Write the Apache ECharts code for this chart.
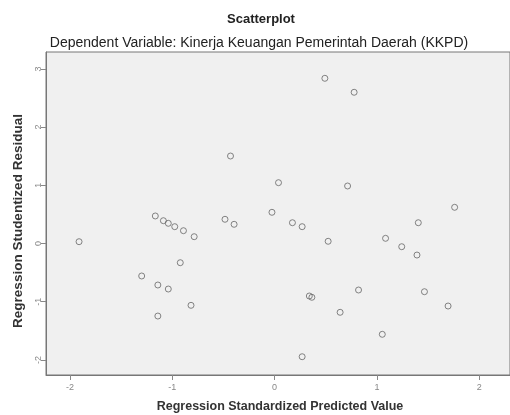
<!DOCTYPE html>
<html><head><meta charset="utf-8">
<script src="https://cdn.jsdelivr.net/npm/echarts@6/dist/echarts.min.js"></script>
<style>html,body{margin:0;padding:0;background:#fff}#c{width:510px;height:415px}</style>
</head><body><div id="c"></div>
<script>
const xTicks = [-2, -1, 0, 1, 2];
const yTicks = [-2, -1, 0, 1, 2, 3];
const predicted = [-1.911,-1.166,-1.087,-1.039,-0.976,-0.891,-0.786,-0.485,-0.396,-0.026,-0.922,-1.299,-1.141,-1.039,-0.817,-1.141,-0.431,0.491,0.777,0.038,0.713,1.759,0.174,0.269,0.523,1.404,1.084,1.242,1.391,0.339,0.364,0.820,0.640,1.464,1.695,1.052,0.269];
const residual = [0.031,0.473,0.392,0.347,0.289,0.220,0.117,0.416,0.330,0.536,-0.330,-0.558,-0.713,-0.782,-1.062,-1.246,1.503,2.838,2.598,1.045,0.988,0.622,0.357,0.289,0.038,0.357,0.089,-0.055,-0.198,-0.902,-0.924,-0.799,-1.182,-0.828,-1.074,-1.560,-1.945];
const data = predicted.map((x, i) => [x, residual[i]]);
const chart = echarts.init(document.getElementById('c'));
const F = 'Liberation Sans';
chart.setOption({
  animation: false,
  backgroundColor: '#fff',
  title: [
    {text: 'Scatterplot', left: 256, textAlign: 'center', top: 8, textStyle: {fontFamily: F, fontSize: 13, fontWeight: 'bold', color: '#222'}},
    {text: 'Dependent Variable: Kinerja Keuangan Pemerintah Daerah (KKPD)', left: 254, textAlign: 'center', top: 31, textStyle: {fontFamily: F, fontSize: 14, fontWeight: 'normal', color: '#222'}}
  ],
  graphic: [
    {type: 'text', position: [280, 407], style: {text: 'Regression Standardized Predicted Value', fontFamily: F, fontSize: 12.5, fontWeight: 'bold', fill: '#333', align: 'center', verticalAlign: 'middle'}},
    {type: 'text', position: [18, 221], rotation: Math.PI / 2, style: {text: 'Regression Studentized Residual', fontFamily: F, fontSize: 13.5, fontWeight: 'bold', fill: '#333', align: 'center', verticalAlign: 'middle'}}
  ],
  grid: {left: 46, top: 52, width: 477, height: 323, show: true, backgroundColor: '#f0f0f0', borderColor: '#777', borderWidth: 1, containLabel: false},
  xAxis: {
    type: 'value', min: -2.234, max: 2.3,
    axisLine: {show: true, onZero: false, lineStyle: {color: '#777'}},
    axisTick: {show: true, inside: false, length: 5, customValues: xTicks, lineStyle: {color: '#888'}},
    axisLabel: {customValues: xTicks, fontFamily: F, fontSize: 9, color: '#888', margin: 8},
    splitLine: {show: false}
  },
  yAxis: {
    type: 'value', min: -2.259, max: 3.29,
    axisLine: {show: true, onZero: false, lineStyle: {color: '#777'}},
    axisTick: {show: true, inside: false, length: 5, customValues: yTicks, lineStyle: {color: '#888'}},
    axisLabel: {customValues: yTicks, rotate: 90, fontFamily: F, fontSize: 9, color: '#888', margin: 3},
    splitLine: {show: false}
  },
  series: [{
    type: 'scatter', data: data, symbol: 'circle', symbolSize: 6,
    itemStyle: {color: 'rgba(0,0,0,0)', borderColor: '#666', borderWidth: 1}
  }]
});
</script></body></html>
